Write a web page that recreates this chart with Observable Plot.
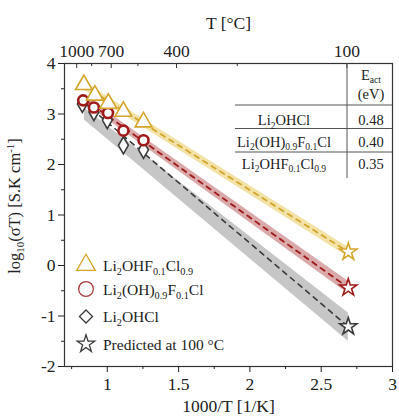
<!DOCTYPE html>
<html><head><meta charset="utf-8">
<script src="https://cdn.jsdelivr.net/npm/d3@7"></script>
<script src="https://cdn.jsdelivr.net/npm/@observablehq/plot@0.6"></script>
<style>
body{margin:0;background:#fff;}
#chart{width:399px;height:418px;}
svg text{font-family:"Liberation Serif","Times New Roman",serif;}
</style></head><body><div id="chart"></div>
<script>
// ---------- data ----------
const triX = [0.836, 0.913, 1.007, 1.113, 1.254];
const triY = [3.58, 3.37, 3.21, 3.05, 2.84];
const cirX = [0.831, 0.906, 1.005, 1.113, 1.254];
const cirY = [3.27, 3.13, 3.02, 2.67, 2.48];
const diaX = [0.825, 0.906, 1.0, 1.113, 1.254];
const diaY = [3.20, 3.04, 2.88, 2.38, 2.29];
const starX = [2.69, 2.69, 2.69];
const starY = [0.27, -0.44, -1.21];
const fitX = [0.84, 2.69];
const goldFit = [3.55, 0.27];
const redFit = [3.29, -0.44];
const blackFit = [3.22, -1.21];
const bandX = [0.84, 2.69];
const goldLo = [3.47, 0.17], goldHi = [3.63, 0.36];
const redLo = [3.22, -0.56], redHi = [3.36, -0.31];
const grayLo = [2.88, -1.5], grayHi = [3.12, -0.94];
const xTicks = [1, 1.5, 2, 2.5, 3];
const xMinor = [0.75, 1.25, 1.75, 2.25, 2.75];
const yTicks = [-2, -1, 0, 1, 2, 3, 4];
const yMinor = [-1.5, -0.5, 0.5, 1.5, 2.5, 3.5];
const topTemps = [1000, 700, 400, 100];
const topTempsMinor = [850, 550, 250];
const tableRows = ["Li_{2}OHCl", "Li_{2}(OH)_{0.9}F_{0.1}Cl", "Li_{2}OHF_{0.1}Cl_{0.9}"];
const tableVals = ["0.48", "0.40", "0.35"];
const tableHead = ["E_{act}", "(eV)"];
const legendLabels = ["Li_{2}OHF_{0.1}Cl_{0.9}", "Li_{2}(OH)_{0.9}F_{0.1}Cl", "Li_{2}OHCl", "Predicted at 100 °C"];
const xLabel = "1000/T [1/K]";
const topLabel = "T [°C]";
const yLabel = "log_{10}(σT) [S.K cm^{-1}]";

// ---------- styles ----------
const FONT = "Liberation Serif, Times New Roman, serif";
const GOLD = "#d3a52a", RED = "#a01a1a", DARK = "#3a3a3a";
const toK = t => 1000 / (t + 273.15);
const pts = (xs, ys) => xs.map((x, i) => ({x, y: ys[i]}));
const band = (lo, hi) => bandX.map((x, i) => ({x, lo: lo[i], hi: hi[i]}));
const PH = 418 - 63 - 52;

const svg = Plot.plot({
  width: 399, height: 418,
  marginLeft: 64, marginRight: 7, marginTop: 63, marginBottom: 52,
  x: {domain: [0.7, 3]},
  y: {domain: [-2, 4]},
  style: {fontFamily: FONT, fontSize: "17.5px", color: "#222", background: "#fff"},
  marks: [
    Plot.areaY(band(grayLo, grayHi), {x: "x", y1: "lo", y2: "hi", fill: "#c6c6c6"}),
    Plot.areaY(band(redLo, redHi), {x: "x", y1: "lo", y2: "hi", fill: "#d6a0a0", fillOpacity: 0.9}),
    Plot.areaY(band(goldLo, goldHi), {x: "x", y1: "lo", y2: "hi", fill: "#f1df9f", fillOpacity: 0.9}),
    Plot.line(pts(fitX, blackFit), {x: "x", y: "y", stroke: DARK, strokeWidth: 1.6, strokeDasharray: "5,5"}),
    Plot.line(pts(fitX, redFit), {x: "x", y: "y", stroke: RED, strokeWidth: 1.8, strokeDasharray: "5,5"}),
    Plot.line(pts(fitX, goldFit), {x: "x", y: "y", stroke: GOLD, strokeWidth: 1.8, strokeDasharray: "5,5"}),
    Plot.dot(pts(diaX, diaY), {x: "x", y: "y", symbol: "diamond", r: 5.2, stroke: DARK, strokeWidth: 1.6, fill: "#fff"}),
    Plot.dot(pts(cirX, cirY), {x: "x", y: "y", symbol: "circle", r: 5, stroke: RED, strokeWidth: 2.6, fill: "#fff"}),
    Plot.dot(pts(triX, triY), {x: "x", y: "y", symbol: "triangle", r: 6.2, stroke: GOLD, strokeWidth: 1.6, fill: "#fff"}),
    Plot.dot(starX.map((x, i) => ({x, y: starY[i], c: [GOLD, RED, DARK][i]})), {x: "x", y: "y", symbol: "star", r: 5.4, stroke: "c", strokeWidth: 1.6, fill: "#fff"}),
    Plot.frame({stroke: "#333", strokeWidth: 1.2}),
    Plot.axisX({ticks: xTicks, tickSize: 6, tickPadding: 5, tickFormat: d => String(d), label: null}),
    Plot.axisX({ticks: xMinor, tickSize: 3, tickFormat: () => "", label: null}),
    Plot.axisY({ticks: yTicks, tickSize: 6, tickPadding: 3, tickFormat: d => String(d), label: null}),
    Plot.axisY({ticks: yMinor, tickSize: 3, tickFormat: () => "", label: null}),
    Plot.axisX({anchor: "top", ticks: topTemps.map(toK), tickSize: 0, tickPadding: 7, tickFormat: d => String(Math.round(1000 / d - 273.15)), label: null}),
    Plot.tickX(topTemps.map(toK), {x: d => d, insetBottom: PH - 5, stroke: "#333"}),
    Plot.tickX(topTempsMinor.map(toK), {x: d => d, insetBottom: PH - 3, stroke: "#333"}),
    Plot.text([topLabel], {frameAnchor: "top", dy: -35, lineAnchor: "bottom", fontSize: 17.5, fill: "#222"}),
    Plot.text([xLabel], {frameAnchor: "bottom", dy: 45, lineAnchor: "bottom", fontSize: 17.5, fill: "#222"})
  ]
});
document.getElementById("chart").appendChild(svg);

// ---------- rich text (sub/superscripts) ----------
function richText(node, str, fs, subShift = 0.26) {
  const sel = d3.select(node);
  sel.text(null);
  const re = /([_^])\{([^}]*)\}|([^_^]+)/g;
  let m, cur = 0;
  while ((m = re.exec(str))) {
    let target, txt, small;
    if (m[3] !== undefined) { target = 0; txt = m[3]; small = false; }
    else { target = m[1] === "_" ? subShift * fs : -0.38 * fs; txt = m[2]; small = true; }
    const ts = sel.append("tspan").text(txt);
    if (target !== cur) ts.attr("dy", target - cur);
    if (small) ts.attr("font-size", 0.66 * fs);
    cur = target;
  }
}

// ---------- y axis title ----------
const yl = d3.select(svg).append("text")
  .attr("transform", "translate(20,206) rotate(-90)")
  .attr("text-anchor", "middle").attr("font-size", 16.5).attr("font-family", FONT).attr("fill", "#222");
richText(yl.node(), yLabel, 16.5);

// ---------- inset table ----------
const g = d3.select(svg).append("g").attr("fill", "#222").attr("font-size", 14.5)
  .attr("font-family", FONT).attr("text-anchor", "middle");
const lineYs = [105, 128.5, 152];
lineYs.forEach(y => g.append("line").attr("x1", 235).attr("x2", 392).attr("y1", y).attr("y2", y).attr("stroke", "#555").attr("stroke-width", 1));
g.append("line").attr("x1", 347).attr("x2", 347).attr("y1", 63).attr("y2", 178).attr("stroke", "#555").attr("stroke-width", 1);
const headY = [80, 99];
tableHead.forEach((t, i) => {
  const el = g.append("text").attr("x", 371).attr("y", headY[i]);
  richText(el.node(), t, 14.5, 0.2);
});
const rowY = [125, 146.5, 168.5];
tableRows.forEach((t, i) => {
  const el = g.append("text").attr("x", 284).attr("y", rowY[i]);
  richText(el.node(), t, 14.5);
  g.append("text").attr("x", 371).attr("y", rowY[i]).text(tableVals[i]);
});

// ---------- legend ----------
const lg = d3.select(svg).append("g").attr("font-size", 15.5)
  .attr("font-family", FONT).attr("fill", "#222").attr("text-anchor", "start");
const legSym = [d3.symbolTriangle, d3.symbolCircle, d3.symbolDiamond2, d3.symbolStar];
const legSize = [150, 170, 110, 95];
const legCol = [GOLD, "#a83a3a", DARK, DARK];
const legY = [265, 289, 316.5, 344];
legendLabels.forEach((t, i) => {
  lg.append("path").attr("d", d3.symbol(legSym[i], legSize[i])())
    .attr("transform", `translate(86,${legY[i]})`)
    .attr("fill", "none").attr("stroke", legCol[i]).attr("stroke-width", 1.3);
  const el = lg.append("text").attr("x", 103).attr("y", legY[i] + 5.5);
  richText(el.node(), t, 15.5);
});
</script></body></html>
